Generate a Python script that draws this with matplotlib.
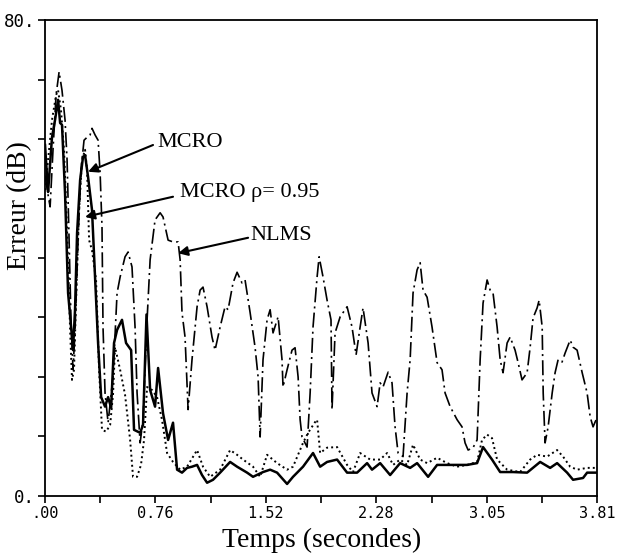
import numpy as np
import matplotlib
matplotlib.use("Agg")
import matplotlib.pyplot as plt

# ── Data ────────────────────────────────────────────────────────────
t_nlms = [0.000, 0.021, 0.035, 0.055, 0.076, 0.097, 0.117, 0.138, 0.152, 0.166,
          0.179, 0.193, 0.207, 0.228, 0.248, 0.269, 0.290, 0.311, 0.324, 0.345,
          0.366, 0.380, 0.393, 0.400, 0.414, 0.435, 0.469, 0.497, 0.518, 0.552,
          0.573, 0.600, 0.621, 0.635, 0.656, 0.676, 0.704, 0.725, 0.759, 0.794,
          0.814, 0.849, 0.883, 0.918, 0.932, 0.945, 0.966, 0.987, 1.014, 1.049,
          1.070, 1.090, 1.118, 1.152, 1.173, 1.208, 1.242, 1.263, 1.297, 1.325,
          1.359, 1.380, 1.415, 1.435, 1.449, 1.470, 1.484, 1.504, 1.532, 1.553,
          1.573, 1.608, 1.635, 1.642, 1.670, 1.704, 1.725, 1.746, 1.760, 1.773,
          1.808, 1.829, 1.849, 1.877, 1.891, 1.918, 1.946, 1.973, 1.980, 2.001,
          2.036, 2.084, 2.118, 2.146, 2.174, 2.194, 2.229, 2.256, 2.291, 2.312,
          2.332, 2.367, 2.394, 2.415, 2.436, 2.470, 2.498, 2.519, 2.539, 2.567,
          2.588, 2.608, 2.636, 2.670, 2.705, 2.739, 2.760, 2.795, 2.843, 2.877,
          2.898, 2.919, 2.953, 2.981, 3.002, 3.022, 3.050, 3.071, 3.091, 3.119,
          3.140, 3.160, 3.188, 3.209, 3.243, 3.264, 3.291, 3.326, 3.347, 3.367,
          3.395, 3.409, 3.430, 3.437, 3.450, 3.471, 3.499, 3.519, 3.540, 3.567,
          3.588, 3.623, 3.643, 3.671, 3.706, 3.740, 3.761, 3.781, 3.802]
e_nlms = [53.9, 50.6, 48.6, 58.2, 67.4, 71.3, 68.2, 63.2, 56.5, 43.0,
          29.6, 21.2, 27.9, 43.0, 54.8, 59.8, 60.3, 60.7, 61.8, 60.7,
          59.8, 54.3, 45.2, 28.4, 17.3, 12.3, 20.0, 34.1, 36.8, 40.2,
          41.0, 38.5, 28.4, 17.3, 8.9, 12.8, 29.6, 39.7, 46.4, 47.6,
          46.9, 43.0, 42.7, 42.7, 39.7, 30.8, 26.7, 14.5, 22.9, 31.8,
          34.6, 35.1, 31.8, 26.7, 24.5, 28.4, 31.8, 31.3, 35.8, 37.6,
          35.8, 36.3, 30.8, 27.4, 25.0, 20.0, 9.9, 22.9, 29.6, 31.3,
          27.4, 30.1, 22.9, 18.3, 21.2, 24.5, 24.9, 20.0, 12.8, 9.9,
          8.2, 17.3, 28.4, 36.8, 40.2, 36.8, 32.9, 29.6, 14.5, 27.4,
          30.1, 31.8, 28.4, 23.7, 28.4, 31.6, 25.7, 17.3, 15.0, 19.0,
          18.3, 20.8, 19.0, 11.6, 7.2, 6.6, 17.3, 22.9, 34.1, 38.0,
          39.2, 34.6, 33.4, 28.4, 22.4, 21.2, 17.3, 15.0, 12.8, 11.6,
          8.9, 7.7, 8.1, 9.4, 22.9, 32.4, 36.3, 34.6, 34.1, 28.4,
          22.9, 20.7, 25.7, 26.7, 24.5, 22.4, 19.5, 20.7, 25.0, 29.9,
          31.6, 32.9, 28.4, 17.3, 8.9, 11.6, 17.3, 20.7, 22.9, 22.5,
          24.0, 26.2, 25.0, 24.5, 20.7, 17.3, 13.3, 11.6, 12.8]

t_mcro = [0.000, 0.014, 0.021, 0.048, 0.069, 0.090, 0.104, 0.117, 0.138, 0.159,
          0.186, 0.193, 0.207, 0.221, 0.242, 0.262, 0.276, 0.297, 0.324, 0.345,
          0.366, 0.387, 0.414, 0.435, 0.456, 0.476, 0.497, 0.531, 0.559, 0.594,
          0.614, 0.656, 0.676, 0.700, 0.725, 0.759, 0.780, 0.814, 0.849, 0.883,
          0.911, 0.945, 0.980, 1.014, 1.049, 1.083, 1.118, 1.159, 1.208, 1.277,
          1.325, 1.394, 1.435, 1.504, 1.553, 1.601, 1.670, 1.711, 1.780, 1.849,
          1.898, 1.946, 2.015, 2.084, 2.153, 2.222, 2.256, 2.312, 2.381, 2.450,
          2.519, 2.567, 2.643, 2.705, 2.795, 2.912, 2.981, 3.022, 3.084, 3.140,
          3.229, 3.326, 3.416, 3.485, 3.533, 3.602, 3.643, 3.712, 3.740, 3.809]
e_mcro = [59.0, 53.6, 51.1, 60.3, 63.2, 66.6, 62.7, 62.4, 50.9, 34.1,
          26.7, 24.5, 31.3, 44.2, 53.1, 57.0, 57.3, 53.6, 48.1, 36.8,
          25.7, 16.6, 15.0, 16.6, 14.8, 25.7, 27.9, 29.6, 25.7, 24.5,
          11.1, 10.6, 11.9, 30.5, 17.8, 15.0, 21.5, 13.9, 9.4, 12.3,
          4.4, 3.9, 4.7, 4.9, 5.2, 3.5, 2.2, 2.7, 3.9, 5.7,
          4.9, 3.9, 3.2, 4.0, 4.4, 3.9, 2.0, 3.2, 4.9, 7.2,
          4.9, 5.7, 6.1, 3.9, 3.9, 5.5, 4.4, 5.5, 3.5, 5.5,
          4.7, 5.5, 3.2, 5.2, 5.2, 5.2, 5.5, 8.2, 6.1, 4.0,
          4.0, 3.9, 5.7, 4.7, 5.5, 3.9, 2.7, 3.0, 3.9, 3.9]

t_rho = [0.000, 0.021, 0.048, 0.076, 0.090, 0.110, 0.131, 0.152, 0.173, 0.186,
         0.200, 0.214, 0.235, 0.255, 0.276, 0.290, 0.304, 0.324, 0.352, 0.373,
         0.393, 0.421, 0.449, 0.469, 0.483, 0.518, 0.552, 0.587, 0.607, 0.635,
         0.662, 0.683, 0.704, 0.738, 0.773, 0.807, 0.842, 0.883, 0.932, 0.980,
         1.049, 1.090, 1.139, 1.208, 1.277, 1.325, 1.366, 1.435, 1.484, 1.532,
         1.601, 1.670, 1.711, 1.780, 1.815, 1.863, 1.877, 1.898, 1.946, 2.015,
         2.084, 2.125, 2.174, 2.243, 2.312, 2.360, 2.401, 2.450, 2.498, 2.539,
         2.588, 2.636, 2.705, 2.774, 2.843, 2.912, 2.981, 3.015, 3.050, 3.084,
         3.119, 3.188, 3.278, 3.347, 3.395, 3.464, 3.533, 3.574, 3.623, 3.671,
         3.740, 3.809]
e_rho = [51.4, 56.5, 63.2, 67.4, 68.2, 64.9, 58.2, 44.7, 27.9, 19.5,
         21.2, 32.9, 48.1, 56.5, 58.2, 54.8, 43.0, 41.3, 36.3, 21.2,
         11.1, 10.8, 11.9, 17.0, 25.0, 21.2, 17.0, 9.4, 3.2, 3.2,
         5.2, 9.4, 18.3, 17.8, 16.6, 12.8, 7.2, 5.7, 4.4, 4.9,
         7.7, 4.9, 3.2, 4.4, 7.7, 6.9, 6.1, 4.9, 3.2, 6.9,
         5.5, 4.4, 4.9, 8.9, 10.6, 12.4, 12.8, 7.2, 8.1, 8.2,
         5.2, 4.0, 7.2, 6.1, 6.1, 7.2, 5.2, 6.1, 5.2, 8.6,
         6.1, 5.5, 6.4, 5.5, 4.9, 5.2, 5.7, 9.4, 10.3, 9.7,
         6.1, 4.4, 4.0, 6.1, 6.9, 6.6, 7.7, 6.6, 4.9, 4.4,
         4.7, 4.7]

x_ticks = [0.381 * i for i in range(11)]
x_ticklabels = [".00", "", "0.76", "", "1.52", "", "2.28", "", "3.05", "", "3.81"]
y_ticks = list(range(0, 81, 10))
y_ticklabels = ["0.", "", "", "", "", "", "", "", "80."]

# ── Figure ──────────────────────────────────────────────────────────
fig = plt.figure(figsize=(6.17, 5.59), dpi=100)
ax = fig.add_axes([0.073, 0.113, 0.895, 0.851])

ax.plot(t_nlms, e_nlms, color="black", lw=1.2, linestyle=(0, (9, 2.5, 1.2, 2.5)))
ax.plot(t_rho, e_rho, color="black", lw=1.4, linestyle=(0, (1, 1.6)))
ax.plot(t_mcro, e_mcro, color="black", lw=1.8, linestyle="-")

ax.set_xlim(0, 3.81)
ax.set_ylim(0, 80)
ax.set_xticks(x_ticks)
ax.set_xticklabels(x_ticklabels, family="DejaVu Sans Mono", fontsize=11)
ax.set_yticks(y_ticks)
ax.set_yticklabels(y_ticklabels, family="DejaVu Sans Mono", fontsize=12.5)
ax.tick_params(direction="out", length=5, width=1.2, pad=2)
for s in ax.spines.values():
    s.set_linewidth(1.3)

serif = "Liberation Serif"
ax.set_xlabel("Temps (secondes)", family=serif, fontsize=20, labelpad=5)
ax.set_ylabel("Erreur (dB)", family=serif, fontsize=20)
ax.yaxis.set_label_coords(-0.024, 0.611)

# labels with arrows
arrow = dict(arrowstyle="-|>", color="black", lw=1.5, mutation_scale=14,
             shrinkA=0, shrinkB=0)
ax.text(0.773, 58.7, "MCRO", family=serif, fontsize=16, va="baseline")
ax.annotate("", xy=(0.297, 54.5), xytext=(0.745, 59.0), arrowprops=arrow)
ax.text(0.932, 50.3, "MCRO \u03c1= 0.95", family=serif, fontsize=16, va="baseline")
ax.annotate("", xy=(0.276, 46.9), xytext=(0.883, 50.3), arrowprops=arrow)
ax.text(1.415, 43.0, "NLMS", family=serif, fontsize=16, va="baseline")
ax.annotate("", xy=(0.918, 40.8), xytext=(1.401, 43.4), arrowprops=arrow)

fig.savefig("out.png", dpi=100)
